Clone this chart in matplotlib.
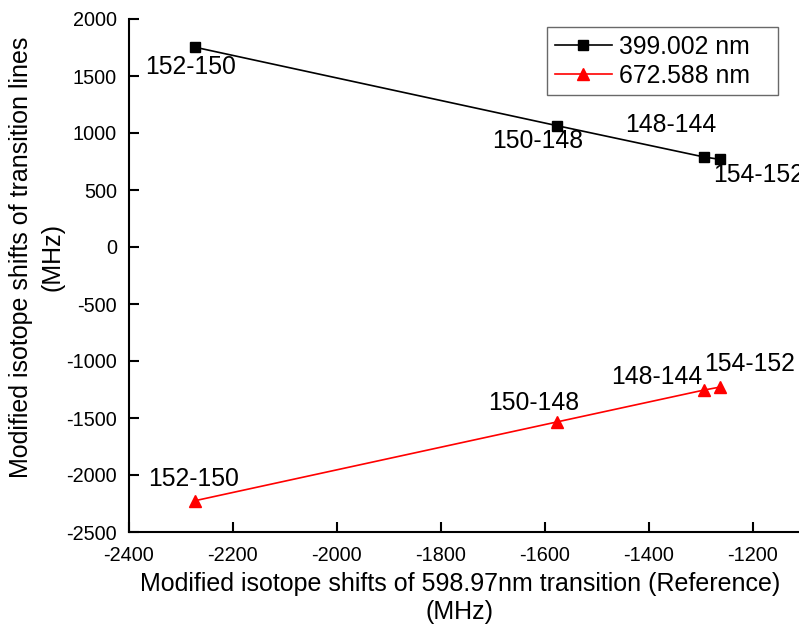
import matplotlib
matplotlib.use("Agg")
import matplotlib.pyplot as plt

plt.rcParams['font.family'] = ['Liberation Sans', 'DejaVu Sans']
plt.rcParams['axes.unicode_minus'] = False

# reference transition shifts (x) and the two other lines (y), MHz
ref_shift = [-2272, -1577, -1294, -1262]
shift_399 = [1752, 1065, 790, 768]
shift_672 = [-2225, -1535, -1255, -1228]
pairs = ["152-150", "150-148", "148-144", "154-152"]

# label offsets in pixels relative to each point
off_399 = [(-5, -20), (-19, -15), (-33, 32), (38, -16)]
off_672 = [(-2, 22), (-23, 19), (-47, 13), (29, 23)]

fig = plt.figure(figsize=(7.99, 6.30), dpi=100)
ax = fig.add_axes([128.7 / 799, 98 / 630, 676 / 799, 513 / 630])

ax.plot(ref_shift, shift_399, color='black', lw=1.2, marker='s',
        markersize=7.2, label='399.002 nm   ')
ax.plot(ref_shift, shift_672, color='red', lw=1.2, marker='^',
        markersize=9, label='672.588 nm   ')

for x, y, lab, off in zip(ref_shift, shift_399, pairs, off_399):
    ax.annotate(lab, (x, y), xytext=off, textcoords='offset pixels',
                ha='center', va='center', fontsize=17.8, annotation_clip=False)
for x, y, lab, off in zip(ref_shift, shift_672, pairs, off_672):
    ax.annotate(lab, (x, y), xytext=off, textcoords='offset pixels',
                ha='center', va='center', fontsize=17.8, annotation_clip=False)

ax.set_xlim(-2400, -1100)
ax.set_ylim(-2500, 2000)
ax.set_xticks(range(-2400, -1199, 200))
ax.set_yticks(range(-2500, 2001, 500))
ax.tick_params(direction='in', length=7, width=1.5, labelsize=14.3)
ax.tick_params(axis='y', pad=8.5)
ax.tick_params(axis='x', pad=10)
ax.spines['top'].set_visible(False)
ax.spines['right'].set_visible(False)
for s in ['left', 'bottom']:
    ax.spines[s].set_linewidth(1.5)

ax.set_xlabel("Modified isotope shifts of 598.97nm transition (Reference)\n(MHz)",
              fontsize=18, linespacing=1.2)
ax.xaxis.set_label_coords(0.49, -(598 - 532) / 513 - 0.0)
ax.xaxis.label.set_va('center')
ax.set_ylabel("Modified isotope shifts of transition lines\n(MHz)",
              fontsize=18, linespacing=1.4)
ax.yaxis.set_label_coords(-(128.7 - 37) / 676, 1 - (257 - 19) / 513)
ax.yaxis.label.set_va('center')

leg = ax.legend(loc='upper right', bbox_to_anchor=(0.9605, 0.984),
                borderaxespad=0, fontsize=17.8, frameon=True, fancybox=False,
                handlelength=2.3, borderpad=0.3, labelspacing=0.2,
                handletextpad=0.3)
leg.get_frame().set_edgecolor('#444444')
leg.get_frame().set_linewidth(1.0)

fig.savefig("out.png", dpi=100)
